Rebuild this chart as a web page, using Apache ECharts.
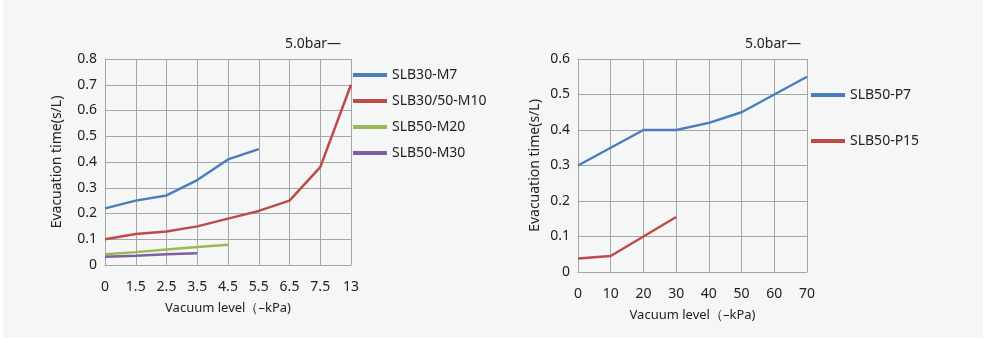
<!DOCTYPE html>
<html>
<head>
<meta charset="utf-8">
<script src="https://cdn.jsdelivr.net/npm/echarts@6/dist/echarts.min.js"></script>
<style>
  html, body { margin: 0; padding: 0; background: #ffffff; }
  #chart { width: 985px; height: 343px; }
</style>
</head>
<body>
<div id="chart"></div>
<script>
// Vacuum levels (-kPa) for the M-series ejectors
const mLevels = ['0', '1.5', '2.5', '3.5', '4.5', '5.5', '6.5', '7.5', '13'];
// Evacuation time (s/L) per model
const slb30M7 = [0.22, 0.25, 0.27, 0.33, 0.41, 0.45];
const slb3050M10 = [0.10, 0.12, 0.13, 0.15, 0.18, 0.21, 0.25, 0.38, 0.70];
const slb50M20 = [0.042, 0.05, 0.06, 0.07, 0.079];
const slb50M30 = [0.032, 0.036, 0.042, 0.046];

// Vacuum levels (-kPa) for the P-series ejectors
const pLevels = ['0', '10', '20', '30', '40', '50', '60', '70'];
const slb50P7 = [0.30, 0.35, 0.40, 0.40, 0.42, 0.45, 0.50, 0.55];
const slb50P15 = [0.038, 0.045, 0.10, 0.155];

const FONT = '"Noto Sans", "DejaVu Sans", sans-serif';
const TEXT = '#222222';
const GRID = '#a6a6a6';
const COLORS = { blue: '#4a7ebb', red: '#be4b48', green: '#98b954', purple: '#7d60a0' };

function xAxis(gridIndex, data) {
  return {
    type: 'category', gridIndex, data, boundaryGap: false,
    name: 'Vacuum level（–kPa)', nameLocation: 'middle', nameGap: 37,
    nameTextStyle: { fontFamily: FONT, fontSize: 13, color: TEXT },
    axisLine: { lineStyle: { color: GRID } },
    axisTick: { show: false },
    axisLabel: { fontFamily: FONT, fontSize: 14, color: TEXT, margin: 15 },
    splitLine: { show: true, lineStyle: { color: GRID, width: 1 } }
  };
}
function yAxis(gridIndex, max, gap) {
  return {
    type: 'value', gridIndex, min: 0, max, interval: 0.1,
    name: 'Evacuation time(s/L)', nameLocation: 'middle', nameGap: gap,
    nameTextStyle: { fontFamily: FONT, fontSize: 14, color: TEXT },
    axisLine: { show: true, lineStyle: { color: GRID } },
    axisTick: { show: false },
    axisLabel: { fontFamily: FONT, fontSize: 14, color: TEXT, margin: 8 },
    splitLine: { show: true, lineStyle: { color: GRID, width: 1 } }
  };
}
function line(name, xi, data, color) {
  return {
    name, type: 'line', xAxisIndex: xi, yAxisIndex: xi, data,
    symbol: 'none', lineStyle: { color, width: 2.5 }, itemStyle: { color },
    animation: false
  };
}
function legend(left, top, names, gap) {
  return {
    left, top, orient: 'vertical', data: names, icon: 'rect',
    itemWidth: 34, itemHeight: 4, itemGap: gap,
    textStyle: { fontFamily: FONT, fontSize: 14, color: TEXT },
    selectedMode: false
  };
}

const chart = echarts.init(document.getElementById('chart'), null, { renderer: 'canvas' });
chart.setOption({
  backgroundColor: '#ffffff',
  animation: false,
  graphic: [{
    type: 'rect', z: -10, silent: true,
    shape: { x: 3, y: 0, width: 980, height: 338 },
    style: { fill: '#f5f7f7' }
  }],
  title: [
    { text: '5.0bar—', left: 280, top: 32, textStyle: { fontFamily: FONT, fontSize: 14, fontWeight: 'normal', color: TEXT } },
    { text: '5.0bar—', left: 740, top: 32, textStyle: { fontFamily: FONT, fontSize: 14, fontWeight: 'normal', color: TEXT } }
  ],
  grid: [
    { left: 105, right: 634, top: 59, bottom: 78 },
    { left: 578, right: 178, top: 59, bottom: 71 }
  ],
  xAxis: [xAxis(0, mLevels), xAxis(1, pLevels)],
  yAxis: [yAxis(0, 0.8, 41), yAxis(1, 0.6, 36)],
  legend: [
    legend(348, 63, ['SLB30-M7', 'SLB30/50-M10', 'SLB50-M20', 'SLB50-M30'], 12),
    legend(806, 83, ['SLB50-P7', 'SLB50-P15'], 32)
  ],
  series: [
    line('SLB30-M7', 0, slb30M7, COLORS.blue),
    line('SLB30/50-M10', 0, slb3050M10, COLORS.red),
    line('SLB50-M20', 0, slb50M20, COLORS.green),
    line('SLB50-M30', 0, slb50M30, COLORS.purple),
    line('SLB50-P7', 1, slb50P7, COLORS.blue),
    line('SLB50-P15', 1, slb50P15, COLORS.red)
  ]
});
</script>
</body>
</html>
